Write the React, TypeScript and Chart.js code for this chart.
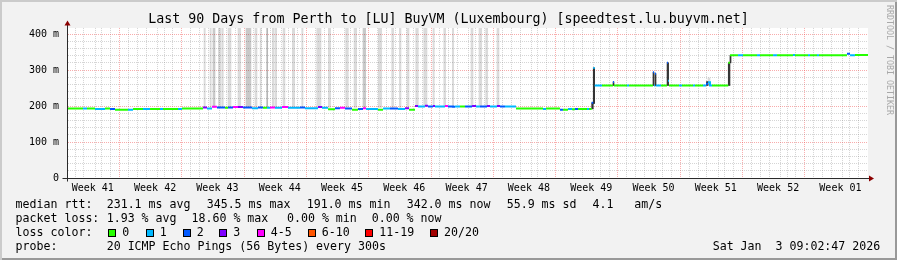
import React, { useEffect, useRef } from "react";
import { Chart, registerables } from "chart.js";

Chart.register(...registerables);

// ---------------- data ----------------
const TITLE = "Last 90 Days from Perth to [LU] BuyVM (Luxembourg) [speedtest.lu.buyvm.net]";
const X_MIN_DAY = 0;
const X_MAX_DAY = 90;
const Y_MIN_MS = 0;
const Y_MAX_MS = 417;
const Y_MINOR_STEP = 20;
const Y_MAJOR_STEP = 100;
const Y_TOP_TICK = 400;
const FIRST_WEEK_BOUNDARY = 6.4; // days after the left edge
const WEEK_LABELS = [
  "Week 41", "Week 42", "Week 43", "Week 44", "Week 45", "Week 46", "Week 47",
  "Week 48", "Week 49", "Week 50", "Week 51", "Week 52", "Week 01",
];

// median rtt: step starts (days), value (ms), lost pings (of 20)
const medianDay = [
  0, 1.8, 2.25, 3.15, 4.27, 4.83, 5.39, 6.85, 7.42, 8.54, 9.33, 10.45, 10.79, 12.47, 12.92,
  15.28, 15.73, 16.29, 16.85, 17.75, 18.09, 18.65, 19.21, 19.78, 20.79, 21.46, 22.02, 22.47,
  22.81, 23.37, 24.16, 24.83, 26.18, 26.74, 28.2, 28.65, 29.33, 30.11, 30.67, 31.24, 32.02,
  32.7, 33.26, 33.6, 34.94, 35.51, 36.29, 37.19, 37.98, 38.43,
  39.1, 39.44, 40.22, 40.56, 41.12, 41.35, 42.47, 42.81, 43.37, 43.6, 44.16, 44.72, 45.51,
  45.96, 46.4, 47.19, 47.53, 48.31, 48.65, 49.21,
  50.45, 53.48, 53.82, 55.39, 55.73, 56.29, 56.74, 57.08, 57.42, 58.43, 58.65,
  58.95, 59.13, 59.29, 60.11, 61.35, 61.46, 62.92, 63.15, 65.84, 65.96, 66.07, 66.18, 66.74,
  67.42, 67.53, 67.64, 68.76, 69.1, 70.34, 70.56, 71.46, 71.8, 72.02, 72.25, 72.47,
  74.3, 74.49, 75.39, 75.96, 77.53, 77.87, 79.33, 79.78, 81.57, 81.8, 83.26, 83.48, 84.27,
  84.49, 87.64, 87.98, 88.31, 88.54, 90,
];
const medianMs = [
  193, 193, 193, 192, 193, 192, 190, 190, 192, 192, 192, 192, 192, 192, 193,
  196, 193, 198, 196, 195, 196, 197, 197, 196, 194, 196, 195, 195,
  196, 195, 197, 195, 196, 194, 197, 195, 191, 194, 195, 193, 190,
  192, 194, 192, 190, 193, 193, 192, 194, 190,
  200, 199, 201, 199, 200, 199, 200, 199, 198, 199, 199, 199, 200,
  199, 199, 200, 199, 200, 199, 199,
  193, 192, 193, 190, 190, 192, 191, 192, 192, 192, 192,
  209, 306, 257, 257, 267, 257, 257, 257, 294, 257, 290, 257, 257,
  320, 270, 257, 257, 257, 257, 257, 257, 262, 266, 257, 257,
  320, 341, 341, 341, 341, 341, 341, 341, 342, 341, 341, 341, 341,
  341, 345, 341, 341, 342, 342,
];
const medianLoss = [
  0, 1, 0, 1, 0, 2, 0, 1, 0, 1, 0, 1, 0, 1, 0,
  3, 1, 4, 2, 0, 2, 4, 3, 2, 1, 2, 0, 1,
  4, 1, 4, 1, 2, 1, 3, 1, 0, 2, 4, 2, 0,
  2, 4, 1, 0, 1, 2, 1, 3, 0,
  3, 1, 3, 2, 3, 1, 4, 2, 2, 1, 0, 2, 3,
  1, 2, 3, 1, 3, 2, 1,
  0, 1, 0, 2, 0, 1, 0, 2, 0, 1, 0,
  2, 1, 1, 0, 2, 0, 1, 0, 2, 1, 2, 1, 0,
  2, 1, 0, 1, 0, 1, 0, 1, 2, 1, 1, 0,
  0, 0, 1, 0, 1, 0, 1, 0, 1, 0, 1, 0, 1,
  0, 2, 1, 1, 0, 0,
];

// smoke (spread of the individual pings): start/end (days), low/high (ms), density
const smokeStart = [
  15.39, 16.07, 16.4, 17.0, 17.38, 18.09, 19.21, 20.11, 21.12, 21.72, 22.44, 23.07, 23.34,
  24.27, 25.32, 26.37, 28.06, 29.36, 31.31, 32.25, 33.26, 34.98, 36.48, 37.34, 38.2,
  39.18, 40.08, 41.12, 42.33, 43.29, 45.39, 46.29, 47.04, 48.31,
  58.95, 59.13, 61.35, 65.84, 66.07, 67.42, 71.85, 72.02, 74.3, 74.49,
];
const smokeEnd = [
  15.54, 16.21, 16.63, 17.27, 17.56, 18.43, 19.52, 20.67, 21.35, 21.8, 22.55, 23.22, 23.56,
  24.49, 25.58, 26.52, 28.54, 29.63, 31.61, 32.55, 33.56, 35.36, 36.71, 37.53, 38.43,
  39.47, 40.45, 41.27, 42.55, 43.45, 45.62, 46.6, 47.27, 48.54,
  59.13, 59.29, 61.46, 65.96, 66.18, 67.6, 72.02, 72.25, 74.49, 74.61,
];
const smokeLow = [
  196, 196, 196, 196, 196, 196, 196, 196, 196, 196, 196, 196, 196,
  196, 196, 196, 196, 196, 196, 196, 196, 196, 196, 196, 196,
  200, 200, 200, 200, 200, 200, 200, 200, 200,
  192, 207, 257, 257, 257, 257, 257, 257, 257, 320,
];
const smokeHigh = [
  430, 430, 430, 430, 430, 430, 430, 430, 430, 430, 430, 430, 430,
  430, 430, 430, 430, 430, 430, 430, 430, 430, 430, 430, 430,
  430, 430, 430, 430, 430, 430, 430, 430, 430,
  209, 306, 267, 294, 290, 320, 268, 278, 320, 341,
];
const smokeDensity = [
  1, 1, 2, 1, 1, 1, 1, 2, 1, 1, 3, 1, 1,
  1, 1, 1, 1, 1, 1, 1, 2, 1, 1, 1, 1,
  1, 1, 1, 1, 1, 1, 1, 1, 1,
  4, 4, 4, 4, 4, 4, 4, 1, 4, 4,
];

const RTT_LABEL = "median rtt:";
const RTT_STATS = ["231.1 ms avg", "345.5 ms max", "191.0 ms min", "342.0 ms now", "55.9 ms sd"];
const AM_VALUE = "4.1";
const AM_UNIT = "am/s";
const LOSS_LABEL = "packet loss:";
const LOSS_STATS = ["1.93 % avg", "18.60 % max", "0.00 % min", "0.00 % now"];
const LOSS_COLOR_LABEL = "loss color:";
const LOSS_LABELS = ["0", "1", "2", "3", "4-5", "6-10", "11-19", "20/20"];
const PROBE_LABEL = "probe:";
const PROBE_TEXT = "20 ICMP Echo Pings (56 Bytes) every 300s";
const DATE_TEXT = "Sat Jan  3 09:02:47 2026";
const SIDE_TEXT = "RRDTOOL / TOBI OETIKER";

// ---------------- styles ----------------
const MONO = "'DejaVu Sans Mono', monospace";
const LOSS_COLORS = ["#26ff00", "#00b8ff", "#0059ff", "#7e00ff", "#ff00ff", "#ff5500", "#ff0000", "#a10000"];
const SMOKE_COLORS: Record<number, string> = {
  1: "rgba(0,0,0,0.14)",
  2: "rgba(0,0,0,0.21)",
  3: "rgba(0,0,0,0.29)",
  4: "rgba(25,25,25,0.88)",
};
const GRID = "rgba(128,128,128,0.33)";
const MGRID = "rgba(240,70,70,0.45)";
const AXIS = "#2a2a2a";
const ARROW = "#8b0000";
const JUMP_BREAK_MS = 12; // big steps are shown by the smoke, not by the coloured median

function lossBin(n: number) {
  if (n <= 3) return n;
  if (n <= 5) return 4;
  if (n <= 10) return 5;
  if (n <= 19) return 6;
  return 7;
}

type XTick = { value: number; kind: "day" | "week" | "label"; label?: string };
function buildXTicks(): XTick[] {
  const ticks: XTick[] = [];
  const base = Math.floor(FIRST_WEEK_BOUNDARY);
  const frac = FIRST_WEEK_BOUNDARY - base;
  for (let k = 0; frac + k < X_MAX_DAY; k++) {
    ticks.push({ value: frac + k, kind: (k - base) % 7 === 0 && k >= base ? "week" : "day" });
  }
  WEEK_LABELS.forEach((label, i) => {
    ticks.push({ value: FIRST_WEEK_BOUNDARY - 3.5 + 7 * i, kind: "label", label });
  });
  ticks.sort((a, b) => a.value - b.value);
  return ticks;
}
const X_TICKS = buildXTicks();

function buildLossLines() {
  const n = medianDay.length - 1;
  const linked = (i: number) =>
    i + 1 < n &&
    lossBin(medianLoss[i + 1]) === lossBin(medianLoss[i]) &&
    Math.abs(medianMs[i + 1] - medianMs[i]) <= JUMP_BREAK_MS;
  return LOSS_COLORS.map((color, bin) => {
    const pts: { x: number; y: number | null }[] = [];
    for (let i = 0; i < n; i++) {
      if (lossBin(medianLoss[i]) !== bin) continue;
      const prevLinked = i > 0 && linked(i - 1);
      if (!prevLinked && pts.length) pts.push({ x: medianDay[i], y: null });
      pts.push({ x: medianDay[i], y: medianMs[i] });
      if (!linked(i)) pts.push({ x: medianDay[i + 1], y: medianMs[i] });
    }
    return {
      type: "line" as const,
      data: pts,
      borderColor: color,
      backgroundColor: color,
      borderWidth: 2,
      pointRadius: 0,
      stepped: true,
      fill: false,
      spanGaps: false,
      order: 1,
    };
  });
}

function buildSmoke() {
  return smokeStart.map((s, i) => ({
    type: "bar" as const,
    data: [{ x: (s + smokeEnd[i]) / 2, y: [smokeLow[i], smokeHigh[i]] }],
    backgroundColor: SMOKE_COLORS[smokeDensity[i]],
    borderWidth: 0,
    grouped: false,
    barThickness: (ctx: any) => {
      const xs = ctx.chart.scales.x;
      const w = xs.getPixelForValue(smokeEnd[i]) - xs.getPixelForValue(s);
      return isFinite(w) && w > 0 ? Math.max(1, w) : 1;
    },
    order: smokeDensity[i] === 4 ? 4 : 5,
  }));
}

const rrdPlugin = {
  id: "rrdFrame",
  beforeDraw(chart: any) {
    const { ctx, chartArea: a } = chart;
    ctx.save();
    ctx.fillStyle = "#ffffff";
    ctx.fillRect(a.left, a.top, a.right - a.left, a.bottom - a.top);
    ctx.restore();
  },
  afterDraw(chart: any) {
    const { ctx, chartArea: a } = chart;
    const ax = Math.round(a.left - 0.5) + 0.5;
    const ay = Math.round(a.bottom - 0.5) + 0.5;
    ctx.save();
    ctx.strokeStyle = AXIS;
    ctx.lineWidth = 1;
    ctx.beginPath();
    ctx.moveTo(ax, ay + 3);
    ctx.lineTo(ax, a.top - 4);
    ctx.moveTo(ax - 5, ay);
    ctx.lineTo(a.right + 2, ay);
    ctx.stroke();
    ctx.fillStyle = ARROW;
    ctx.beginPath();
    ctx.moveTo(ax, a.top - 7.5);
    ctx.lineTo(ax - 3, a.top - 2.5);
    ctx.lineTo(ax + 3, a.top - 2.5);
    ctx.closePath();
    ctx.fill();
    ctx.beginPath();
    ctx.moveTo(a.right + 6, ay);
    ctx.lineTo(a.right + 1, ay - 3);
    ctx.lineTo(a.right + 1, ay + 3);
    ctx.closePath();
    ctx.fill();
    ctx.restore();
  },
};

export default function App() {
  const ref = useRef<HTMLCanvasElement>(null);

  useEffect(() => {
    if (!ref.current) return;
    const chart = new Chart(ref.current, {
      type: "line",
      data: { datasets: [...buildSmoke(), ...buildLossLines()] as any },
      options: {
        responsive: false,
        animation: false,
        events: [],
        layout: { padding: 0 },
        plugins: {
          legend: { display: false },
          tooltip: { enabled: false },
          title: {
            display: true,
            text: TITLE,
            color: "#000",
            font: { family: MONO, size: 13.3, weight: "normal", lineHeight: 1.2 },
            padding: { top: 12, bottom: 0 },
          },
        },
        scales: {
          x: {
            type: "linear",
            min: X_MIN_DAY,
            max: X_MAX_DAY,
            offset: false,
            afterBuildTicks: (s: any) => {
              s.ticks = X_TICKS.map((t) => ({ value: t.value }));
            },
            afterFit: (s: any) => {
              s.height = 82;
            },
            ticks: {
              autoSkip: false,
              maxRotation: 0,
              minRotation: 0,
              padding: 4,
              color: "#000",
              font: { family: MONO, size: 10, lineHeight: 1.2 },
              callback: (_v: any, i: number) => (X_TICKS[i] && X_TICKS[i].kind === "label" ? X_TICKS[i].label : ""),
            },
            grid: {
              drawTicks: false,
              lineWidth: 1,
              color: (ctx: any) => {
                const t = X_TICKS[ctx.index];
                if (!t || t.kind === "label") return "rgba(0,0,0,0)";
                return t.kind === "week" ? MGRID : GRID;
              },
            },
            border: { display: true, color: AXIS, width: 1, dash: [1, 1] },
          },
          y: {
            type: "linear",
            position: "left",
            min: Y_MIN_MS,
            max: Y_MAX_MS,
            afterBuildTicks: (s: any) => {
              const t = [];
              for (let v = Y_MIN_MS; v <= Y_TOP_TICK; v += Y_MINOR_STEP) t.push({ value: v });
              s.ticks = t;
            },
            afterFit: (s: any) => {
              s.width = 67;
            },
            ticks: {
              autoSkip: false,
              padding: 8,
              color: "#000",
              font: { family: MONO, size: 10, lineHeight: 1.2 },
              callback: (v: any) => (v % Y_MAJOR_STEP === 0 ? (v === 0 ? "0" : `${v} m`) : ""),
            },
            grid: {
              drawTicks: false,
              lineWidth: 1,
              color: (ctx: any) => (ctx.tick && ctx.tick.value % Y_MAJOR_STEP === 0 ? MGRID : GRID),
            },
            border: { display: true, color: AXIS, width: 1, dash: [1, 1] },
          },
          yR: {
            type: "linear",
            position: "right",
            display: true,
            grid: { display: false, drawOnChartArea: false },
            ticks: { display: false },
            border: { display: false },
            afterFit: (s: any) => {
              s.width = 29;
            },
          },
        },
      } as any,
      plugins: [rrdPlugin],
    });
    return () => chart.destroy();
  }, []);

  const textBase: React.CSSProperties = {
    position: "absolute",
    fontFamily: MONO,
    fontSize: "11.6px",
    lineHeight: "14px",
    color: "#000",
    whiteSpace: "pre",
  };
  const rowTop = [196.7, 210.7, 224.7, 238.7];
  const statX = [106.7, 206.7, 306.7, 406.7, 506.7];
  const lossStatX = [106.7, 191.5, 287, 371.7];
  const squareX = [108.3, 145.7, 182.7, 219.3, 256.7, 307.7, 365.3, 430];

  return (
    <div
      style={{
        position: "absolute",
        left: 0,
        top: 0,
        width: 897,
        height: 260,
        background: "#F2F2F2",
        overflow: "hidden",
      }}
    >
      <canvas ref={ref} width={897} height={260} style={{ position: "absolute", left: 0, top: 0 }} />

      <div style={{ ...textBase, left: 15.6, top: rowTop[0] }}>{RTT_LABEL}</div>
      {RTT_STATS.map((s, i) => (
        <div key={"r" + i} style={{ ...textBase, left: statX[i], top: rowTop[0] }}>{s}</div>
      ))}
      <div style={{ ...textBase, left: 592.5, top: rowTop[0] }}>{AM_VALUE}</div>
      <div style={{ ...textBase, left: 634.3, top: rowTop[0] }}>{AM_UNIT}</div>

      <div style={{ ...textBase, left: 15.6, top: rowTop[1] }}>{LOSS_LABEL}</div>
      {LOSS_STATS.map((s, i) => (
        <div key={"l" + i} style={{ ...textBase, left: lossStatX[i], top: rowTop[1] }}>{s}</div>
      ))}

      <div style={{ ...textBase, left: 15.6, top: rowTop[2] }}>{LOSS_COLOR_LABEL}</div>
      {LOSS_LABELS.map((s, i) => (
        <React.Fragment key={"c" + i}>
          <div
            style={{
              position: "absolute",
              left: squareX[i],
              top: 229.3,
              width: 6,
              height: 6,
              border: "1px solid #000",
              background: LOSS_COLORS[i],
            }}
          />
          <div style={{ ...textBase, left: squareX[i] + 14, top: rowTop[2] }}>{s}</div>
        </React.Fragment>
      ))}

      <div style={{ ...textBase, left: 15.6, top: rowTop[3] }}>{PROBE_LABEL}</div>
      <div style={{ ...textBase, left: 106.7, top: rowTop[3] }}>{PROBE_TEXT}</div>
      <div style={{ ...textBase, left: 712.7, top: rowTop[3] }}>{DATE_TEXT}</div>

      <div
        style={{
          position: "absolute",
          left: 885,
          top: 5,
          writingMode: "vertical-rl",
          fontFamily: MONO,
          fontSize: "8.3px",
          lineHeight: "10px",
          color: "#a8a8a8",
          whiteSpace: "pre",
        }}
      >
        {SIDE_TEXT}
      </div>

      <div
        style={{
          position: "absolute",
          left: 0,
          top: 0,
          width: 897,
          height: 260,
          pointerEvents: "none",
          boxShadow: "inset 2px 2px 0 #CBCBCB, inset -2px -2px 0 #999999",
        }}
      />
    </div>
  );
}
